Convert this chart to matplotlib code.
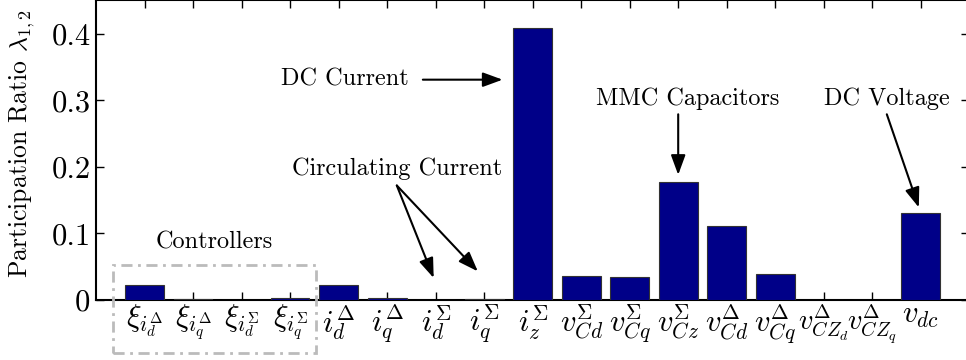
import numpy as np
import matplotlib
matplotlib.use("Agg")
import matplotlib.pyplot as plt
import matplotlib.patches as patches

plt.rcParams['font.family'] = 'cmr10'
plt.rcParams['mathtext.fontset'] = 'cm'
plt.rcParams['axes.formatter.use_mathtext'] = True

labels = [
    r'$\xi_{i_d^{\Delta}}$', r'$\xi_{i_q^{\Delta}}$',
    r'$\xi_{i_d^{\Sigma}}$', r'$\xi_{i_q^{\Sigma}}$',
    r'$i_d^{\Delta}$', r'$i_q^{\Delta}$',
    r'$i_d^{\Sigma}$', r'$i_q^{\Sigma}$', r'$i_z^{\Sigma}$',
    r'$v_{Cd}^{\Sigma}$', r'$v_{Cq}^{\Sigma}$', r'$v_{Cz}^{\Sigma}$',
    r'$v_{Cd}^{\Delta}$', r'$v_{Cq}^{\Delta}$',
    r'$v_{CZ_d}^{\Delta}$', r'$v_{CZ_q}^{\Delta}$', r'$v_{dc}$',
]
ratios = [0.022, 0.001, 0.0005, 0.003, 0.023, 0.003, 0.0, 0.002, 0.408,
          0.036, 0.034, 0.177, 0.111, 0.039, 0.0, 0.0, 0.130]
yticks = [0, 0.1, 0.2, 0.3, 0.4]
ytick_labels = ['0', '0.1', '0.2', '0.3', '0.4']

fig = plt.figure(figsize=(9.66, 3.6), dpi=100)
ax = fig.add_axes([0.0994, 0.1667, 0.904, 0.832])

x = np.arange(len(ratios))
ax.bar(x, ratios, width=0.8, color='#000088', edgecolor='#333333',
       linewidth=0.8, zorder=3)

ax.set_xlim(-1, len(ratios))
ax.set_ylim(0, 0.45)
ax.set_xticks(x)
ax.set_xticklabels(labels, fontsize=22)
# the two long CZ labels nearly touch in the original
for t in ax.get_xticklabels()[14:16]:
    t.set_fontsize(20.5)
ax.set_yticks(yticks)
ax.set_yticklabels(ytick_labels, fontsize=22)
ax.tick_params(direction='in', length=6, width=1, top=True, right=True,
               pad=4)
ax.tick_params(axis='x', pad=2)
for s in ax.spines.values():
    s.set_linewidth(1.5)
ax.set_ylabel(r'Participation Ratio $\lambda_{1,2}$', fontsize=18.5)
ax.yaxis.set_label_coords(-0.068, 0.52)

arrow = dict(arrowstyle='-|>,head_length=0.6,head_width=0.22',
             color='black', lw=1.5, mutation_scale=20,
             shrinkA=0, shrinkB=0)
fs = 17.5

ax.annotate('DC Current', xy=(7.38, 0.331), xytext=(5.45, 0.331),
            ha='right', va='center', fontsize=fs,
            arrowprops=dict(arrow, shrinkA=8))
ax.text(5.2, 0.197, 'Circulating Current', ha='center', va='center',
        fontsize=fs)
ax.annotate('', xy=(5.96, 0.033), xytext=(5.2, 0.172), arrowprops=arrow)
ax.annotate('', xy=(6.87, 0.043), xytext=(5.2, 0.172), arrowprops=arrow)
ax.text(11.2, 0.303, 'MMC Capacitors', ha='center', va='center', fontsize=fs)
ax.annotate('', xy=(11.0, 0.188), xytext=(11.0, 0.279), arrowprops=arrow)
ax.text(15.3, 0.303, 'DC Voltage', ha='center', va='center', fontsize=fs)
ax.annotate('', xy=(15.96, 0.139), xytext=(15.3, 0.279), arrowprops=arrow)
ax.text(1.44, 0.087, 'Controllers', ha='center', va='center', fontsize=fs)

box = patches.Rectangle((-0.64, -0.079), 4.17, 0.131, fill=False,
                        edgecolor='#bbbbbb', linestyle=(0, (4, 2, 1, 2)),
                        linewidth=2, clip_on=False, zorder=5)
ax.add_patch(box)

fig.savefig('out.png', dpi=100)
